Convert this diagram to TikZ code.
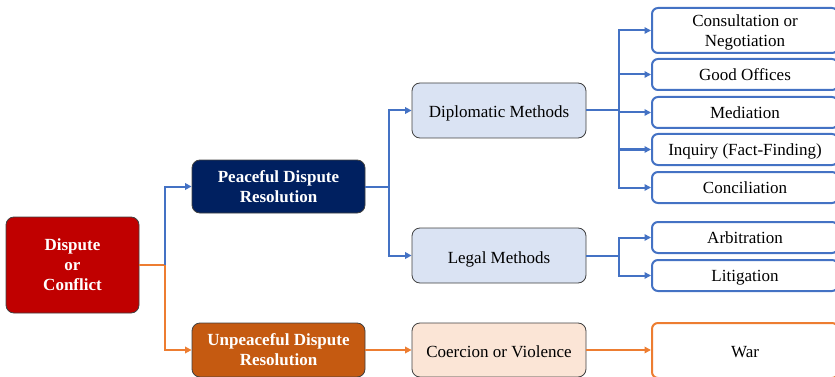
\documentclass[tikz,border=0pt]{standalone}
\usepackage{fontspec}
\setmainfont{Liberation Serif}
\usetikzlibrary{arrows.meta}
\definecolor{blueline}{HTML}{4472C4}
\definecolor{orangeline}{HTML}{ED7D31}
\definecolor{boxred}{HTML}{C00000}
\definecolor{boxnavy}{HTML}{002060}
\definecolor{boxrust}{HTML}{C55A11}
\definecolor{boxlightblue}{HTML}{DAE3F3}
\definecolor{boxpeach}{HTML}{FBE5D6}
\begin{document}
\begin{tikzpicture}[x=1pt,y=-1pt,
  box/.style={rectangle, rounded corners=8pt, draw=black!75, line width=0.8pt,
    align=center, inner sep=0pt, text depth=0pt, font=\fontsize{17}{20}\selectfont},
  darkbox/.style={box, text=white, font=\bfseries\fontsize{17}{20}\selectfont},
  midbox/.style={box, minimum width=174pt, text height=15pt},
  leaf/.style={rectangle, rounded corners=6pt, draw=blueline, line width=2pt,
    fill=white, align=center, inner sep=0pt, minimum width=186pt,
    text depth=0pt, font=\fontsize{17}{20}\selectfont},
  oneline/.style={text height=12pt},
  bline/.style={draw=blueline, line width=2pt},
  oline/.style={draw=orangeline, line width=2pt},
  barrow/.style={bline, -{Triangle[length=6.5pt,width=6.5pt]}},
  oarrow/.style={oline, -{Triangle[length=6.5pt,width=6.5pt]}}]
\useasboundingbox (0,0) rectangle (835,377);

% root and first level
\node[darkbox, fill=boxred, minimum width=133pt, minimum height=96pt] (dispute) at (72.5,265) {Dispute\\or\\Conflict};
\node[darkbox, fill=boxnavy, minimum width=173pt, minimum height=53pt] (peace) at (278.5,186.5) {Peaceful Dispute\\Resolution};
\node[darkbox, fill=boxrust, minimum width=173pt, minimum height=54pt] (unpeace) at (278.5,350) {Unpeaceful Dispute\\Resolution};

% second level
\node[midbox, fill=boxlightblue, minimum height=55pt] (dipl) at (499,110.5) {Diplomatic Methods};
\node[midbox, fill=boxlightblue, minimum height=55pt] (legal) at (499,255.5) {Legal Methods};
\node[midbox, fill=boxpeach, minimum height=54pt] (coerc) at (499,350) {Coercion or Violence};

% leaves
\node[leaf, minimum height=45pt] (consult) at (745,30.5) {Consultation or\\Negotiation};
\node[leaf, oneline, minimum height=31pt] (good) at (745,74.5) {Good Offices};
\node[leaf, oneline, minimum height=31pt] (medi) at (745,112.5) {Mediation};
\node[leaf, oneline, minimum height=31pt] (inq) at (745,149.5) {Inquiry (Fact-Finding)};
\node[leaf, oneline, minimum height=31pt] (conc) at (745,187.5) {Conciliation};
\node[leaf, oneline, minimum height=31pt] (arb) at (745,237.5) {Arbitration};
\node[leaf, oneline, minimum height=31pt] (lit) at (745,275.5) {Litigation};
\node[leaf, draw=orangeline, text height=13.5pt, minimum height=55pt] (war) at (745,350.5) {War};

% junctions
\coordinate (j1) at (165,265);
\coordinate (j2) at (389,186.5);
\coordinate (j3) at (619,110.5);
\coordinate (j4) at (619,255.5);

% connectors
\draw[oline] (dispute.east) -- (j1);
\draw[oarrow] (j1) |- (unpeace.west);
\draw[barrow] (j1) |- (peace.west);

\draw[bline] (peace.east) -- (j2);
\draw[barrow] (j2) |- (dipl.west);
\draw[barrow] (j2) |- (legal.west);

\draw[bline] (dipl.east) -- (j3);
\foreach \n in {consult,good,medi,inq,conc}
  \draw[barrow] (j3) |- (\n.west);

\draw[bline] (legal.east) -- (j4);
\draw[barrow] (j4) |- (arb.west);
\draw[barrow] (j4) |- (lit.west);

\draw[oarrow] (unpeace.east) -- (coerc.west);
\draw[oarrow] (coerc.east) -- (coerc.east -| war.west);
\end{tikzpicture}
\end{document}
